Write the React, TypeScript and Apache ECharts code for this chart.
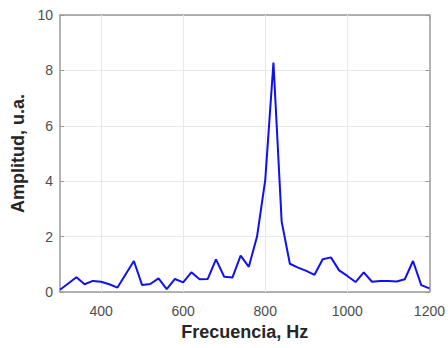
import React, { useEffect, useRef } from "react";
import * as echarts from "echarts";

const freqHz = [300, 340, 360, 380, 400, 420, 440, 480, 500, 520, 540, 560, 580, 600, 620, 640, 660, 680, 700, 720, 740, 760, 780, 800, 820, 840, 860, 880, 900, 920, 940, 960, 980, 1000, 1020, 1040, 1060, 1080, 1100, 1120, 1140, 1160, 1180, 1200];
const amplitude = [0.08, 0.53, 0.28, 0.4, 0.37, 0.28, 0.16, 1.12, 0.25, 0.29, 0.49, 0.1, 0.47, 0.35, 0.71, 0.46, 0.47, 1.18, 0.55, 0.52, 1.31, 0.91, 2.0, 4.04, 8.28, 2.54, 1.02, 0.88, 0.76, 0.62, 1.18, 1.25, 0.78, 0.58, 0.36, 0.71, 0.37, 0.4, 0.4, 0.38, 0.46, 1.12, 0.25, 0.13];
const xTicks = [400, 600, 800, 1000, 1200];
const yTicks = [0, 2, 4, 6, 8, 10];

export default function App() {
  const ref = useRef<HTMLDivElement>(null);
  useEffect(() => {
    if (!ref.current) return;
    const chart = echarts.init(ref.current, null, { renderer: "svg" });
    const axisLineColor = "#9a9a9a";
    const labelColor = "#4d4d4d";
    const gridColor = "#e8e8e8";
    const font = "Liberation Sans, Arial";
    chart.setOption({
      animation: false,
      grid: { left: 60, right: 18, top: 15, bottom: 56, containLabel: false },
      xAxis: [
        {
          type: "value",
          min: 300,
          max: 1200,
          position: "bottom",
          name: "Frecuencia, Hz",
          nameLocation: "middle",
          nameGap: 31,
          nameTextStyle: { fontFamily: font, fontWeight: "bold", fontSize: 18, color: "#262626" },
          axisLine: { show: true, onZero: false, lineStyle: { color: axisLineColor, width: 1.5 } },
          axisTick: { show: true, inside: true, length: 4, customValues: xTicks, lineStyle: { color: axisLineColor } },
          axisLabel: {
            customValues: xTicks,
            color: labelColor,
            fontSize: 14,
            fontFamily: font,
            margin: 12,
            formatter: (v: number) => String(v),
          },
          splitLine: { show: false },
        },
        {
          type: "value",
          min: 300,
          max: 1200,
          position: "top",
          axisLine: { show: true, onZero: false, lineStyle: { color: axisLineColor, width: 1.5 } },
          axisTick: { show: true, inside: true, length: 4, customValues: xTicks, lineStyle: { color: axisLineColor } },
          axisLabel: { show: false },
          splitLine: { show: false },
        },
      ],
      yAxis: [
        {
          type: "value",
          min: 0,
          max: 10,
          interval: 2,
          position: "left",
          name: "Amplitud, u.a.",
          nameLocation: "middle",
          nameGap: 31,
          nameTextStyle: { fontFamily: font, fontWeight: "bold", fontSize: 18, color: "#262626" },
          axisLine: { show: true, onZero: false, lineStyle: { color: axisLineColor, width: 1.5 } },
          axisTick: { show: true, inside: true, length: 4, lineStyle: { color: axisLineColor } },
          axisLabel: { color: labelColor, fontSize: 14, fontFamily: font, margin: 7, customValues: yTicks },
          splitLine: { show: true, lineStyle: { color: gridColor, width: 1 } },
        },
        {
          type: "value",
          min: 0,
          max: 10,
          interval: 2,
          position: "right",
          axisLine: { show: true, onZero: false, lineStyle: { color: axisLineColor, width: 1.5 } },
          axisTick: { show: true, inside: true, length: 4, lineStyle: { color: axisLineColor } },
          axisLabel: { show: false },
          splitLine: { show: false },
        },
      ],
      series: [
        {
          type: "line",
          data: freqHz.map((f, i) => [f, amplitude[i]]),
          showSymbol: false,
          symbol: "none",
          lineStyle: { color: "#1010f0", width: 2 },
          xAxisIndex: 0,
          yAxisIndex: 0,
          z: 3,
          markLine: {
            silent: true,
            symbol: "none",
            label: { show: false },
            lineStyle: { color: gridColor, width: 1, type: "solid" },
            z: 1,
            data: xTicks.filter((t) => t < 1200).map((t) => ({ xAxis: t })),
          },
        },
      ],
    });
    return () => chart.dispose();
  }, []);
  return <div ref={ref} style={{ width: 448, height: 348, position: "absolute", left: 0, top: 0, background: "#fff" }} />;
}
